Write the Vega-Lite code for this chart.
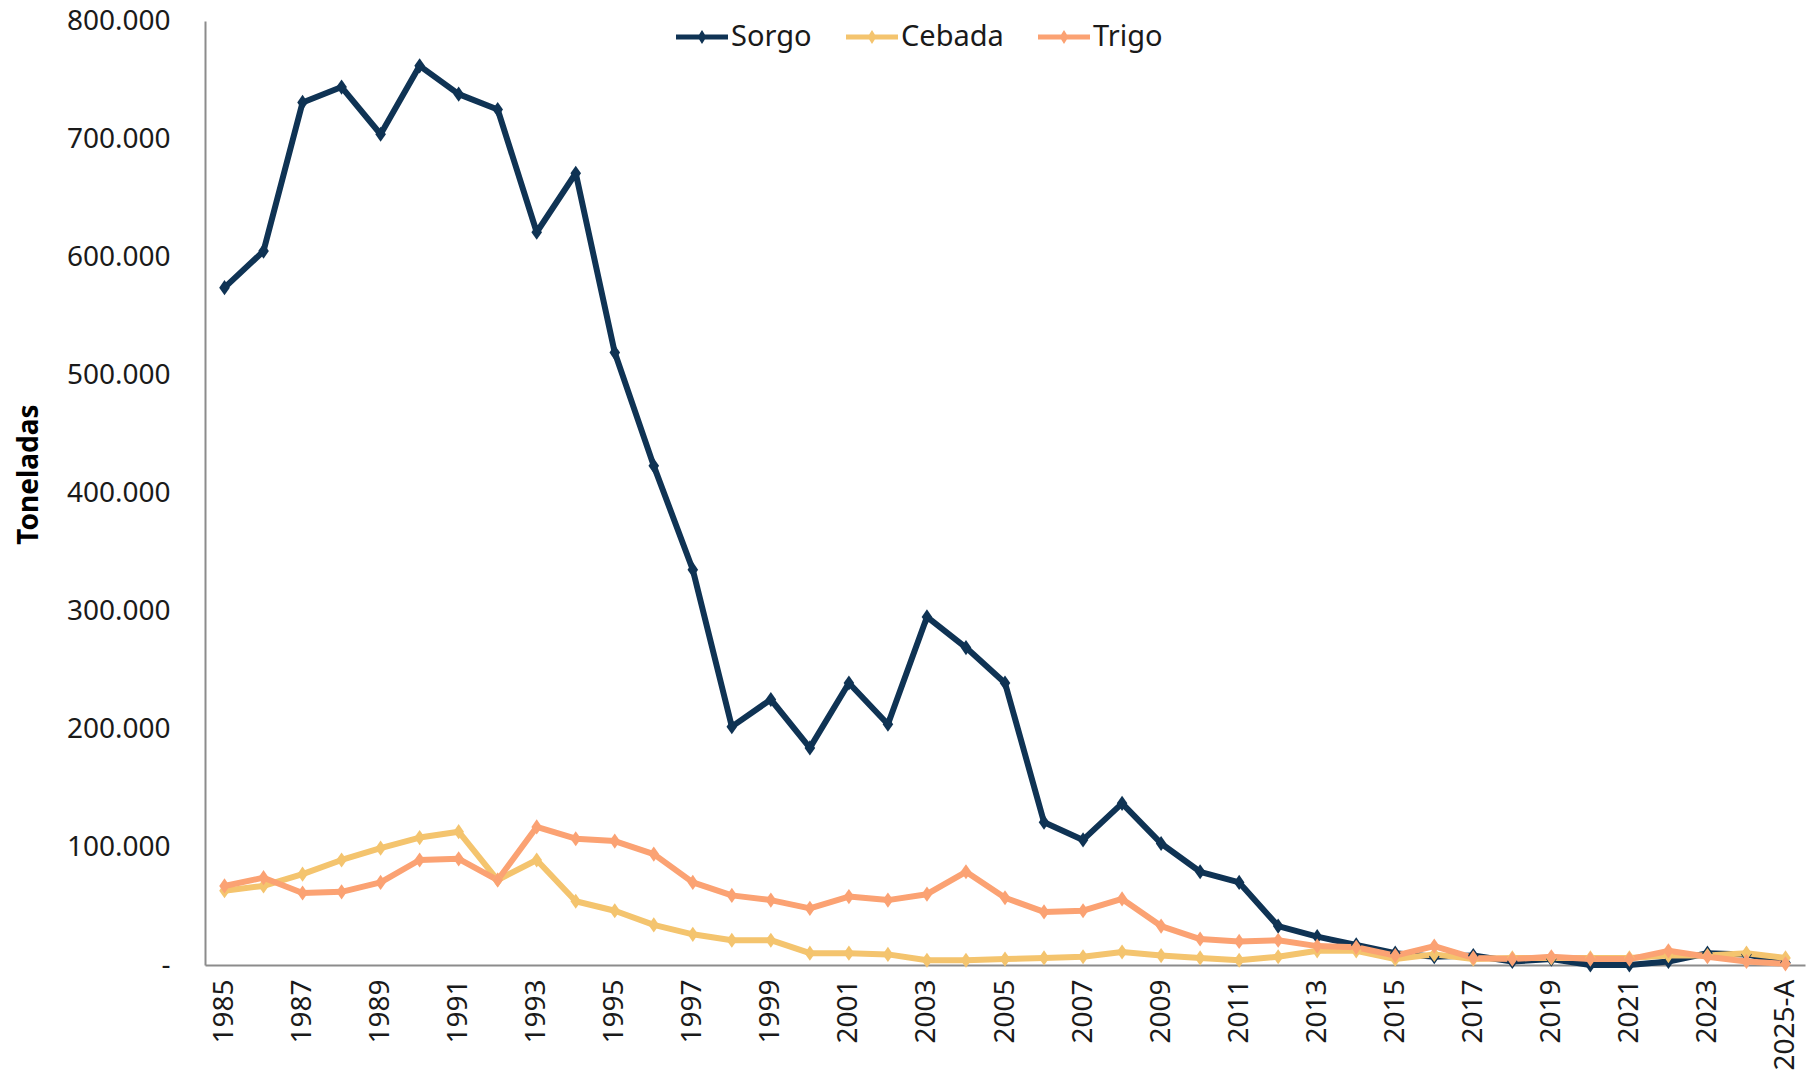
{
  "$schema": "https://vega.github.io/schema/vega-lite/v6.json",
  "width": 1600,
  "height": 944,
  "autosize": {"type": "none"},
  "padding": {"left": 205, "top": 21, "right": 7, "bottom": 126},
  "background": "white",
  "config": {
    "view": {"stroke": null},
    "font": "Noto Sans",
    "locale": {"number": {"decimal": ",", "thousands": ".", "grouping": [3], "currency": ["$", ""]}}
  },
  "datasets": {
    "d": [
      {"year":"1985","series":"Sorgo","value":574000},{"year":"1986","series":"Sorgo","value":605000},{"year":"1987","series":"Sorgo","value":731000},{"year":"1988","series":"Sorgo","value":744000},{"year":"1989","series":"Sorgo","value":704000},{"year":"1990","series":"Sorgo","value":762000},{"year":"1991","series":"Sorgo","value":738000},{"year":"1992","series":"Sorgo","value":725000},{"year":"1993","series":"Sorgo","value":621000},{"year":"1994","series":"Sorgo","value":671000},{"year":"1995","series":"Sorgo","value":519000},{"year":"1996","series":"Sorgo","value":423000},{"year":"1997","series":"Sorgo","value":335000},{"year":"1998","series":"Sorgo","value":202000},{"year":"1999","series":"Sorgo","value":225000},{"year":"2000","series":"Sorgo","value":184000},{"year":"2001","series":"Sorgo","value":239000},{"year":"2002","series":"Sorgo","value":204000},{"year":"2003","series":"Sorgo","value":295000},{"year":"2004","series":"Sorgo","value":269000},{"year":"2005","series":"Sorgo","value":239000},{"year":"2006","series":"Sorgo","value":121000},{"year":"2007","series":"Sorgo","value":106000},{"year":"2008","series":"Sorgo","value":137000},{"year":"2009","series":"Sorgo","value":103000},{"year":"2010","series":"Sorgo","value":79000},{"year":"2011","series":"Sorgo","value":70000},{"year":"2012","series":"Sorgo","value":33000},{"year":"2013","series":"Sorgo","value":24000},{"year":"2014","series":"Sorgo","value":17000},{"year":"2015","series":"Sorgo","value":10000},{"year":"2016","series":"Sorgo","value":7000},{"year":"2017","series":"Sorgo","value":8000},{"year":"2018","series":"Sorgo","value":3000},{"year":"2019","series":"Sorgo","value":5000},{"year":"2020","series":"Sorgo","value":0},{"year":"2021","series":"Sorgo","value":0},{"year":"2022","series":"Sorgo","value":3000},{"year":"2023","series":"Sorgo","value":10000},{"year":"2024","series":"Sorgo","value":9000},{"year":"2025-A","series":"Sorgo","value":2000},
      {"year":"1985","series":"Cebada","value":63000},{"year":"1986","series":"Cebada","value":67000},{"year":"1987","series":"Cebada","value":77000},{"year":"1988","series":"Cebada","value":89000},{"year":"1989","series":"Cebada","value":99000},{"year":"1990","series":"Cebada","value":108000},{"year":"1991","series":"Cebada","value":113000},{"year":"1992","series":"Cebada","value":72000},{"year":"1993","series":"Cebada","value":89000},{"year":"1994","series":"Cebada","value":54000},{"year":"1995","series":"Cebada","value":46000},{"year":"1996","series":"Cebada","value":34000},{"year":"1997","series":"Cebada","value":26000},{"year":"1998","series":"Cebada","value":21000},{"year":"1999","series":"Cebada","value":21000},{"year":"2000","series":"Cebada","value":10000},{"year":"2001","series":"Cebada","value":10000},{"year":"2002","series":"Cebada","value":9000},{"year":"2003","series":"Cebada","value":4000},{"year":"2004","series":"Cebada","value":4000},{"year":"2005","series":"Cebada","value":5000},{"year":"2006","series":"Cebada","value":6000},{"year":"2007","series":"Cebada","value":7000},{"year":"2008","series":"Cebada","value":11000},{"year":"2009","series":"Cebada","value":8000},{"year":"2010","series":"Cebada","value":6000},{"year":"2011","series":"Cebada","value":4000},{"year":"2012","series":"Cebada","value":7000},{"year":"2013","series":"Cebada","value":12000},{"year":"2014","series":"Cebada","value":12000},{"year":"2015","series":"Cebada","value":5000},{"year":"2016","series":"Cebada","value":9000},{"year":"2017","series":"Cebada","value":5000},{"year":"2018","series":"Cebada","value":6000},{"year":"2019","series":"Cebada","value":6000},{"year":"2020","series":"Cebada","value":6000},{"year":"2021","series":"Cebada","value":6000},{"year":"2022","series":"Cebada","value":8000},{"year":"2023","series":"Cebada","value":8000},{"year":"2024","series":"Cebada","value":10000},{"year":"2025-A","series":"Cebada","value":6000},
      {"year":"1985","series":"Trigo","value":67000},{"year":"1986","series":"Trigo","value":74000},{"year":"1987","series":"Trigo","value":61000},{"year":"1988","series":"Trigo","value":62000},{"year":"1989","series":"Trigo","value":70000},{"year":"1990","series":"Trigo","value":89000},{"year":"1991","series":"Trigo","value":90000},{"year":"1992","series":"Trigo","value":72000},{"year":"1993","series":"Trigo","value":117000},{"year":"1994","series":"Trigo","value":107000},{"year":"1995","series":"Trigo","value":105000},{"year":"1996","series":"Trigo","value":94000},{"year":"1997","series":"Trigo","value":70000},{"year":"1998","series":"Trigo","value":59000},{"year":"1999","series":"Trigo","value":55000},{"year":"2000","series":"Trigo","value":48000},{"year":"2001","series":"Trigo","value":58000},{"year":"2002","series":"Trigo","value":55000},{"year":"2003","series":"Trigo","value":60000},{"year":"2004","series":"Trigo","value":79000},{"year":"2005","series":"Trigo","value":57000},{"year":"2006","series":"Trigo","value":45000},{"year":"2007","series":"Trigo","value":46000},{"year":"2008","series":"Trigo","value":56000},{"year":"2009","series":"Trigo","value":33000},{"year":"2010","series":"Trigo","value":22000},{"year":"2011","series":"Trigo","value":20000},{"year":"2012","series":"Trigo","value":21000},{"year":"2013","series":"Trigo","value":16000},{"year":"2014","series":"Trigo","value":15000},{"year":"2015","series":"Trigo","value":8000},{"year":"2016","series":"Trigo","value":16000},{"year":"2017","series":"Trigo","value":6000},{"year":"2018","series":"Trigo","value":5000},{"year":"2019","series":"Trigo","value":7000},{"year":"2020","series":"Trigo","value":5000},{"year":"2021","series":"Trigo","value":5000},{"year":"2022","series":"Trigo","value":12000},{"year":"2023","series":"Trigo","value":7000},{"year":"2024","series":"Trigo","value":3000},{"year":"2025-A","series":"Trigo","value":1000}
    ]
  },
  "data": {"name": "d"},
  "encoding": {
    "x": {
      "field": "year", "type": "ordinal",
      "scale": {"type": "point", "padding": 0.5},
      "axis": {
        "title": null, "labelAngle": -90, "labelAlign": "right", "labelBaseline": "middle",
        "labelPadding": 14, "ticks": false, "grid": false,
        "domainColor": "#8c8c8c", "domainWidth": 2,
        "labelFontSize": 28, "labelColor": "#1a1a1a",
        "values": ["1985","1987","1989","1991","1993","1995","1997","1999","2001","2003","2005","2007","2009","2011","2013","2015","2017","2019","2021","2023","2025-A"]
      }
    },
    "y": {
      "field": "value", "type": "quantitative",
      "scale": {"domain": [0, 800000], "nice": false},
      "axis": {
        "title": "Toneladas", "titleFontSize": 28, "titleFontWeight": "bold", "titleColor": "#000",
        "titleAngle": -90, "titleX": -162, "titleY": 453, "titleAlign": "center", "titleBaseline": "bottom",
        "values": [0,100000,200000,300000,400000,500000,600000,700000,800000],
        "format": ",d", "labelExpr": "datum.value == 0 ? '-' : datum.label",
        "ticks": false, "grid": false, "domainColor": "#8c8c8c", "domainWidth": 2,
        "labelPadding": 35, "labelFontSize": 28, "labelColor": "#1a1a1a",
        "encode": {"labels": {"update": {"dx": {"signal": "datum.value == 0 ? -18 : 0"}}}}
      }
    },
    "color": {
      "field": "series", "type": "nominal",
      "scale": {"domain": ["Sorgo","Cebada","Trigo"], "range": ["#0f3354","#F4C46E","#FBA273"]},
      "legend": {
        "orient": "none", "legendX": 471, "legendY": -10, "direction": "horizontal", "title": null,
        "labelFontSize": 29, "labelColor": "#1a1a1a", "labelOffset": 3, "columnPadding": 34,
        "symbolType": "M -1 -0.1 L 1 -0.1 L 1 0.1 L -1 0.1 Z M 0 -0.27 L 0.17 0 L 0 0.27 L -0.17 0 Z",
        "symbolSize": 2704, "symbolStrokeWidth": 0,
        "encode": {"symbols": {"update": {"fill": {"scale": "color", "field": "value"}, "strokeWidth": {"value": 0}, "opacity": {"value": 1}}}}
      }
    }
  },
  "layer": [
    {"mark": {"type": "line", "strokeWidth": 6, "strokeJoin": "round", "strokeCap": "round"}},
    {"mark": {"type": "point", "shape": "M 0 -1 L 0.7 0 L 0 1 L -0.7 0 Z", "filled": true, "size": 230, "opacity": 1}}
  ]
}
